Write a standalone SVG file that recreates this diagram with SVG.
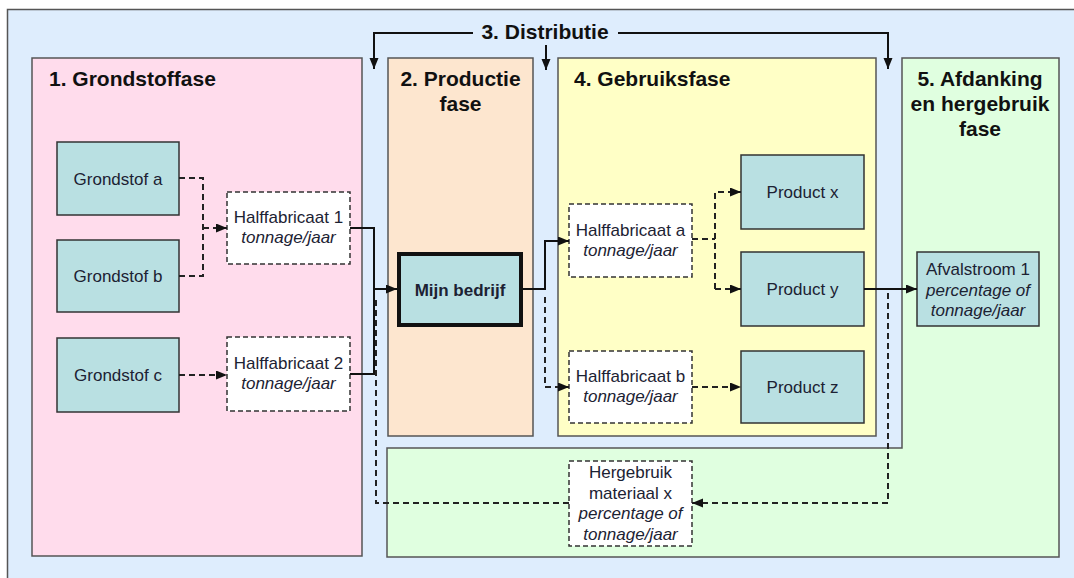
<svg xmlns="http://www.w3.org/2000/svg" width="1074" height="578" viewBox="0 0 1074 578">
<style>
.phase{stroke:#555;stroke-width:1.5}
.node{fill:#b9e0e2;stroke:#333;stroke-width:1.5}
.half{fill:#ffffff;stroke:#333;stroke-width:1.5;stroke-dasharray:5 3}
.head{font-family:"Liberation Sans",Arial,sans-serif;font-weight:bold;font-size:21px;fill:#111}
.t{font-family:"Liberation Sans",Arial,sans-serif;font-size:17px;fill:#1c2233;text-anchor:middle}
.i{font-style:italic}
.b{font-weight:bold}
.solid{fill:none;stroke:#111;stroke-width:2}
.dash{fill:none;stroke:#222;stroke-width:2;stroke-dasharray:6 4}
</style>
<defs>
<marker id="arr" markerUnits="userSpaceOnUse" markerWidth="12" markerHeight="10" refX="11" refY="4.5" orient="auto">
<path d="M0,0 L11,4.5 L0,9 z" fill="#111"/>
</marker>
</defs>

<rect x="7.5" y="9.5" width="1080" height="580" fill="#deedfd" stroke="#555" stroke-width="1.5"/>

<g id="phase1">
<rect class="phase" x="32" y="58" width="330" height="498" fill="#ffdcec"/>
<text class="head" x="49" y="86">1. Grondstoffase</text>
</g>
<g id="phase2">
<rect class="phase" x="388" y="58" width="145" height="378" fill="#fde6cf"/>
<text class="head" x="460.5" y="86" text-anchor="middle">2. Productie</text>
<text class="head" x="460.5" y="111" text-anchor="middle">fase</text>
</g>
<g id="phase4">
<rect class="phase" x="558" y="58" width="318" height="378" fill="#ffffc6"/>
<text class="head" x="574" y="86">4. Gebruiksfase</text>
</g>
<g id="phase5">
<path class="phase" d="M387,448 H902 V58 H1059 V557 H387 Z" fill="#e0ffe0"/>
<text class="head" x="980" y="86" text-anchor="middle">5. Afdanking</text>
<text class="head" x="980" y="111" text-anchor="middle">en hergebruik</text>
<text class="head" x="980" y="136" text-anchor="middle">fase</text>
</g>
<g id="phase3">
<text class="head" x="545" y="39" text-anchor="middle">3. Distributie</text>
</g>

<g id="grondstof-a">
<rect class="node" x="57" y="142" width="122" height="73"/>
<text class="t" x="118" y="184.5">Grondstof a</text>
</g>
<g id="grondstof-b">
<rect class="node" x="57" y="240" width="122" height="72"/>
<text class="t" x="118" y="282">Grondstof b</text>
</g>
<g id="grondstof-c">
<rect class="node" x="57" y="338" width="122" height="74"/>
<text class="t" x="118" y="381">Grondstof c</text>
</g>
<g id="halffabricaat-1">
<rect class="half" x="227" y="192" width="123" height="72"/>
<text class="t" x="288.5" y="223">Halffabricaat 1</text>
<text class="t i" x="288.5" y="243">tonnage/jaar</text>
</g>
<g id="halffabricaat-2">
<rect class="half" x="227" y="337" width="123" height="74"/>
<text class="t" x="288.5" y="369">Halffabricaat 2</text>
<text class="t i" x="288.5" y="389">tonnage/jaar</text>
</g>
<g id="mijn-bedrijf">
<rect x="399" y="254" width="122" height="71" fill="#b9e0e2" stroke="#111" stroke-width="4"/>
<text class="t b" x="460" y="295.5">Mijn bedrijf</text>
</g>
<g id="halffabricaat-a">
<rect class="half" x="569" y="204" width="123" height="73"/>
<text class="t" x="630.5" y="235.5">Halffabricaat a</text>
<text class="t i" x="630.5" y="255.5">tonnage/jaar</text>
</g>
<g id="halffabricaat-b">
<rect class="half" x="569" y="351" width="123" height="72"/>
<text class="t" x="630.5" y="382">Halffabricaat b</text>
<text class="t i" x="630.5" y="402">tonnage/jaar</text>
</g>
<g id="product-x">
<rect class="node" x="741" y="155" width="123" height="74"/>
<text class="t" x="802.5" y="198">Product x</text>
</g>
<g id="product-y">
<rect class="node" x="741" y="252" width="123" height="74"/>
<text class="t" x="802.5" y="295">Product y</text>
</g>
<g id="product-z">
<rect class="node" x="741" y="351" width="123" height="72"/>
<text class="t" x="802.5" y="393">Product z</text>
</g>
<g id="afvalstroom-1">
<rect class="node" x="917" y="252" width="122" height="74"/>
<text class="t" x="978" y="275">Afvalstroom 1</text>
<text class="t i" x="978" y="295.5">percentage of</text>
<text class="t i" x="978" y="316">tonnage/jaar</text>
</g>
<g id="hergebruik">
<rect class="half" x="569" y="461" width="123" height="85"/>
<text class="t" x="630.5" y="478">Hergebruik</text>
<text class="t" x="630.5" y="498.5">materiaal x</text>
<text class="t i" x="630.5" y="519">percentage of</text>
<text class="t i" x="630.5" y="539.5">tonnage/jaar</text>
</g>

<g id="connectors">
<path class="solid" d="M473,33 H374 V69" marker-end="url(#arr)"/>
<path class="solid" d="M546,45 V70" marker-end="url(#arr)"/>
<path class="solid" d="M618,33 H888 V69" marker-end="url(#arr)"/>

<path class="dash" d="M179,178 H203 V276 H179"/>
<path class="dash" d="M203,228 H227" marker-end="url(#arr)"/>
<path class="dash" d="M179,375 H227" marker-end="url(#arr)"/>

<path class="solid" d="M350,228 H374 V374 H350"/>
<path class="solid" d="M374,289 H397" marker-end="url(#arr)"/>

<path class="solid" d="M523,289 H545 V241 H569" marker-end="url(#arr)"/>
<path class="dash" d="M545,297 V387 H569" marker-end="url(#arr)"/>

<path class="dash" d="M692,239 H715"/>
<path class="dash" d="M715,289 V192 H741" marker-end="url(#arr)"/>
<path class="dash" d="M715,289 H741" marker-end="url(#arr)"/>
<path class="dash" d="M692,387 H741" marker-end="url(#arr)"/>

<path class="solid" d="M864,289 H917" marker-end="url(#arr)"/>
<path class="dash" d="M888,293 V503 H692" marker-end="url(#arr)"/>
<path class="dash" d="M569,503 H376 V297"/>
</g>
</svg>
